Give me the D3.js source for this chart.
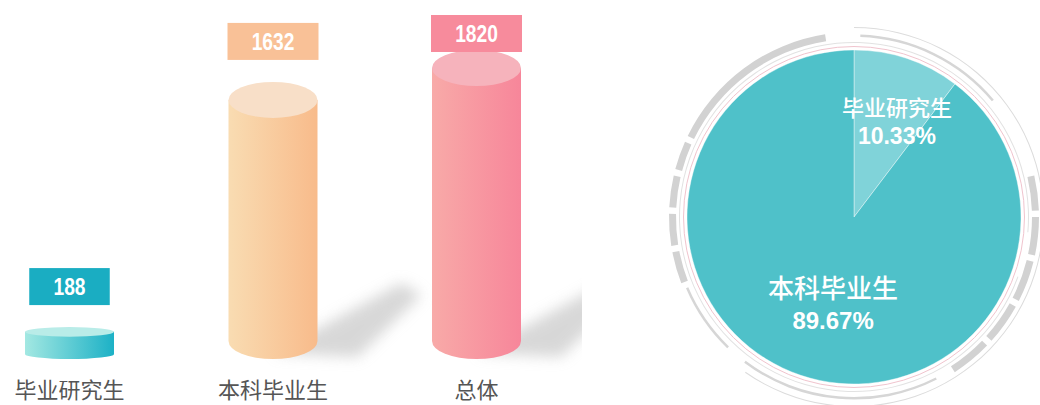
<!DOCTYPE html>
<html>
<head>
<meta charset="utf-8">
<script src="https://cdn.jsdelivr.net/npm/d3@7"></script>
<style>
  html, body { margin: 0; padding: 0; background: #fff; }
  svg { display: block; }
</style>
</head>
<body>
<svg id="chart" width="1040" height="405"></svg>
<script>
// data
const categories = ["毕业研究生", "本科毕业生", "总体"];
const counts = [188, 1632, 1820];
const pieNames = ["毕业研究生", "本科毕业生"];
const pieValues = [188, 1632];

const barColors = [
  { left: "#a3e8e2", right: "#1cb1c6", top: "#b9ece8", box: "#1aadc2" },
  { left: "#f9dcb2", right: "#f8bb8b", top: "#f8dfc8", box: "#f9c197" },
  { left: "#f8aaa8", right: "#f7869a", top: "#f6b3bc", box: "#f78b9c" }
];

const svg = d3.select("#chart");
const defs = svg.append("defs");

// gradients for the cylinders
barColors.forEach((c, i) => {
  const g = defs.append("linearGradient")
    .attr("id", "grad" + i)
    .attr("x1", "0%").attr("x2", "100%").attr("y1", "0%").attr("y2", "0%");
  g.append("stop").attr("offset", "0%").attr("stop-color", c.left);
  g.append("stop").attr("offset", "100%").attr("stop-color", c.right);
});

defs.append("filter").attr("id", "blur")
  .attr("x", "-50%").attr("y", "-50%").attr("width", "200%").attr("height", "200%")
  .append("feGaussianBlur").attr("stdDeviation", 7);

defs.append("clipPath").attr("id", "barClip")
  .append("rect").attr("x", 0).attr("y", 0).attr("width", 582).attr("height", 405);

// ---- cylinder bars ----
const base = 359;
const rx = 44.5;
const x = d3.scalePoint().domain(categories).range([69.5, 476.5]);
const h = d3.scaleLinear().domain([0, 1820]).range([0, 309]);

const bars = svg.append("g").attr("clip-path", "url(#barClip)");

// shadows first (only the tall cylinders throw a visible one)
bars.selectAll(".shadow")
  .data(counts.map((d, i) => ({ v: d, c: categories[i] })).filter((d) => h(d.v) > 100))
  .enter().append("polygon")
  .attr("class", "shadow")
  .attr("points", (d) => {
    const cx = x(d.c);
    const s = 80;
    return [
      [cx, base - 6],
      [cx + rx + s * 1.05, base - s * 0.95],
      [cx + rx + s * 1.3, base - s * 0.8],
      [cx + rx + s * 0.5, base - 2]
    ].map((p) => p.join(",")).join(" ");
  })
  .attr("fill", "#b8b8b8")
  .attr("opacity", 0.55)
  .attr("filter", "url(#blur)");

const cyl = bars.selectAll(".cyl")
  .data(counts)
  .enter().append("g")
  .attr("class", "cyl");

cyl.append("path")
  .attr("d", (d, i) => {
    const cx = x(categories[i]);
    const hh = h(d);
    const ry = Math.min(18, hh * 0.15);
    const topC = base - hh + ry;
    const botC = base - ry;
    return `M${cx - rx},${topC} L${cx - rx},${botC} A${rx},${ry} 0 0 0 ${cx + rx},${botC} L${cx + rx},${topC} Z`;
  })
  .attr("fill", (d, i) => `url(#grad${i})`);

cyl.append("ellipse")
  .attr("cx", (d, i) => x(categories[i]))
  .attr("cy", (d) => base - h(d) + Math.min(18, h(d) * 0.15))
  .attr("rx", rx)
  .attr("ry", (d) => Math.min(18, h(d) * 0.15))
  .attr("fill", (d, i) => barColors[i].top);

// value boxes
const boxH = 37;
const labels = svg.append("g").selectAll("g")
  .data(counts)
  .enter().append("g")
  .attr("transform", (d, i) => {
    const topEdge = base - h(d);
    const y = Math.max(15, topEdge - 22 - boxH);
    return `translate(${x(categories[i])},${y})`;
  });

labels.append("rect")
  .attr("x", (d) => -(String(d).length * 10.5 + 49) / 2)
  .attr("width", (d) => String(d).length * 10.5 + 49)
  .attr("height", boxH)
  .attr("fill", (d, i) => barColors[i].box);

// condensed bold digits
labels.append("text")
  .attr("transform", "translate(0,27) scale(0.8,1)")
  .attr("text-anchor", "middle")
  .attr("fill", "#fff")
  .style("font-family", "'Liberation Sans', Arial, sans-serif")
  .style("font-weight", "bold")
  .style("font-size", "24px")
  .text((d) => d);

// category labels
svg.append("g").selectAll("text")
  .data(categories)
  .enter().append("text")
  .attr("x", (d) => x(d))
  .attr("y", 398)
  .attr("text-anchor", "middle")
  .attr("fill", "#555")
  .style("font-family", "'Noto Sans CJK SC', sans-serif")
  .style("font-size", "22px")
  .text((d) => d);

// ---- pie ----
const cx = 854, cy = 217, R = 167;
const deg = Math.PI / 180;
const pg = svg.append("g").attr("transform", `translate(${cx},${cy})`);

// decorative ring
const thick = [[-64, -9], [-75, -66], [-87, -77], [-99, -89], [-111, -101],
  [77, 88], [90, 102], [104, 117], [119, 132], [134, 147]];
const thin = [[2, 50], [-136, -113], [153, 217]];
const ringArc = d3.arc();

pg.selectAll(".thick")
  .data(thick)
  .enter().append("path")
  .attr("d", (d) => ringArc({ innerRadius: 178, outerRadius: 185, startAngle: d[0] * deg, endAngle: d[1] * deg }))
  .attr("fill", "#d2d2d2");

pg.selectAll(".thin")
  .data(thin)
  .enter().append("path")
  .attr("d", (d) => ringArc({ innerRadius: 180, outerRadius: 182.5, startAngle: d[0] * deg, endAngle: d[1] * deg }))
  .attr("fill", "#d6d6d6");

pg.append("path")
  .attr("d", ringArc({ innerRadius: 189, outerRadius: 190, startAngle: 0, endAngle: 215 * deg }))
  .attr("fill", "#dcdcdc");
pg.append("path")
  .attr("d", ringArc({ innerRadius: 174, outerRadius: 175, startAngle: -250 * deg, endAngle: 95 * deg }))
  .attr("fill", "#e2e2e2");

pg.append("circle")
  .attr("r", 170.5)
  .attr("fill", "none")
  .attr("stroke", "#f0c4ce")
  .attr("stroke-width", 1);

const pie = d3.pie().sort(null);
const arcs = pie(pieValues);
const arc = d3.arc().innerRadius(0).outerRadius(R);
const labelArc = d3.arc().innerRadius(100).outerRadius(100);
const pieColors = ["#80d3d9", "#4fc1c9"];

pg.selectAll(".slice")
  .data(arcs)
  .enter().append("path")
  .attr("d", arc)
  .attr("fill", (d, i) => pieColors[i])
  .attr("stroke", "rgba(255,255,255,0.5)")
  .attr("stroke-width", 0.8);

const total = d3.sum(pieValues);
const nameSize = [22, 26];
const pctSize = [23, 24];
const pl = pg.selectAll(".plabel")
  .data(arcs)
  .enter().append("text")
  .attr("transform", (d) => {
    const c = labelArc.centroid(d);
    return `translate(${c[0] + 11},${c[1]})`;
  })
  .attr("text-anchor", "middle")
  .attr("fill", "#fff")
  .style("font-family", "'Noto Sans CJK SC', sans-serif")
  .style("font-weight", "bold");

pl.append("tspan")
  .attr("x", 0)
  .attr("y", (d, i) => i === 0 ? -6 : -14)
  .style("font-size", (d, i) => nameSize[i] + "px")
  .style("font-weight", "500")
  .text((d, i) => pieNames[i]);

pl.append("tspan")
  .attr("x", 0)
  .attr("y", (d, i) => i === 0 ? 22 : 17)
  .style("font-size", (d, i) => pctSize[i] + "px")
  .style("font-family", "'Liberation Sans', Arial, sans-serif")
  .text((d) => (d.value / total * 100).toFixed(2) + "%");
</script>
</body>
</html>
